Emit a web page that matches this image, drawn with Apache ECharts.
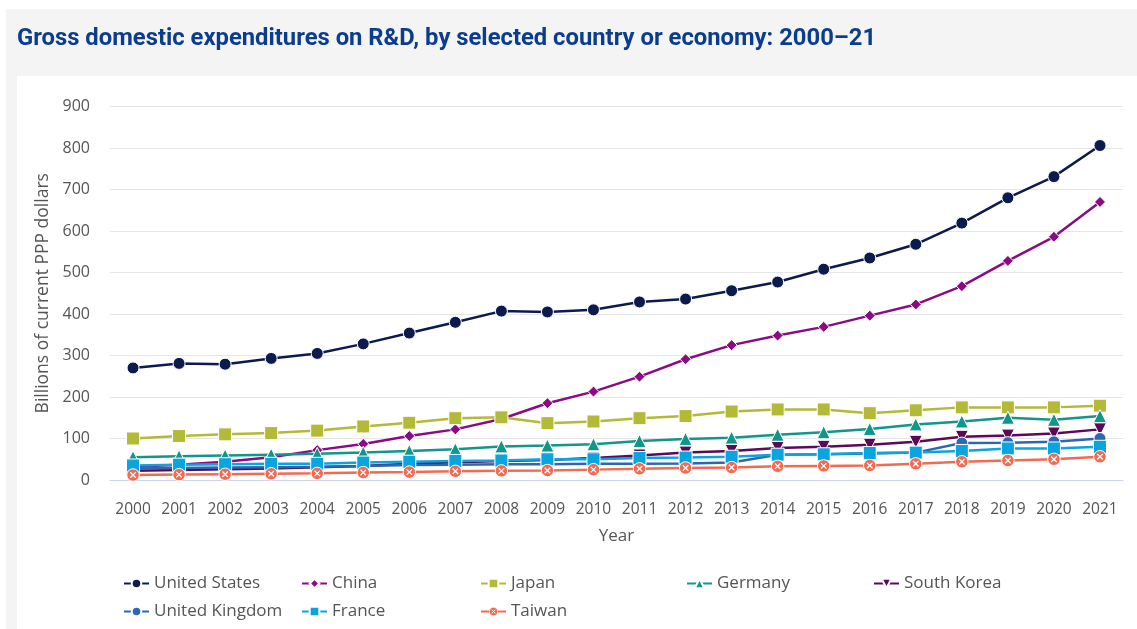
<!DOCTYPE html>
<html>
<head>
<meta charset="utf-8">
<script src="https://cdn.jsdelivr.net/npm/echarts@6/dist/echarts.min.js"></script>
<style>
	html, body { margin: 0; padding: 0; background: #fff; }
	#rd-chart { width: 1137px; height: 629px; }
</style>
</head>
<body>
<div id="rd-chart"></div>
<script>
var years = ['2000','2001','2002','2003','2004','2005','2006','2007','2008','2009','2010',
	'2011','2012','2013','2014','2015','2016','2017','2018','2019','2020','2021'];

// billions of current PPP dollars
var unitedStates = [270, 281, 279, 293, 305, 328, 354, 380, 407, 405, 410, 429, 436, 456, 477, 508, 535, 568, 619, 680, 731, 806];
var china        = [32, 37, 44, 55, 72, 87, 106, 122, 147, 185, 213, 249, 291, 325, 348, 369, 396, 423, 467, 528, 586, 670];
var japan        = [100, 106, 110, 113, 119, 129, 138, 149, 151, 137, 141, 149, 154, 165, 170, 170, 161, 168, 175, 175, 175, 179];
var germany      = [55, 57, 59, 61, 63, 66, 70, 74, 81, 83, 86, 94, 99, 102, 109, 115, 123, 134, 141, 150, 145, 154];
var southKorea   = [22, 24, 26, 28, 31, 34, 39, 43, 46, 48, 53, 59, 66, 70, 77, 80, 85, 92, 104, 107, 112, 122];
var unitedKingdom = [28, 29, 30, 31, 32, 34, 36, 37, 38, 38, 39, 39, 40, 42, 61, 62, 64, 66, 89, 90, 92, 100];
var france       = [35, 37, 38, 39, 39, 42, 44, 46, 47, 50, 50, 53, 54, 56, 61, 62, 65, 66, 70, 76, 76, 80];
var taiwan       = [12, 13, 14, 15, 16, 18, 19, 21, 22, 23, 25, 27, 29, 30, 33, 34, 35, 39, 44, 47, 50, 56];

var yTicks = [0, 100, 200, 300, 400, 500, 600, 700, 800, 900];

var taiwanIcon = 'image://data:image/svg+xml;charset=utf-8,' + encodeURIComponent(
	"<svg xmlns='http://www.w3.org/2000/svg' width='28' height='28'>" +
	"<circle cx='14' cy='14' r='12.5' fill='#f26a51' stroke='#ffffff' stroke-width='2'/>" +
	"<path d='M8.5,8.5L19.5,19.5M19.5,8.5L8.5,19.5' stroke='#ffffff' stroke-width='2.6'/></svg>");

function makeSeries(name, data, color, symbol, size, rotate) {
	return {
		name: name,
		type: 'line',
		data: data,
		symbol: symbol,
		symbolSize: size,
		symbolRotate: rotate || 0,
		showAllSymbol: true,
		color: color,
		lineStyle: { width: 2.5, color: color },
		itemStyle: { color: color, borderColor: '#fff', borderWidth: 1 }
	};
}

function legendAt(name, left, top) {
	return {
		data: [name],
		left: left,
		top: top,
		itemWidth: 25,
		itemHeight: 12,
		textStyle: { fontFamily: 'Open Sans', fontSize: 17, color: '#555' }
	};
}

var option = {
	animation: false,
	graphic: [
		{ type: 'rect', z: -10, shape: { x: 6, y: 9, width: 1131, height: 620 }, style: { fill: '#f4f4f4' } },
		{ type: 'rect', z: -9, shape: { x: 17, y: 76, width: 1120, height: 553 }, style: { fill: '#ffffff' } }
	],
	title: {
		text: 'Gross domestic expenditures on R&D, by selected country or economy: 2000\u201321',
		left: 12,
		top: 22,
		textStyle: { fontFamily: 'Roboto', fontWeight: 'bold', fontSize: 23.8, color: '#0b3d8f' }
	},
	legend: [
		legendAt('United States', 118, 570),
		legendAt('China', 296, 570),
		legendAt('Japan', 475, 570),
		legendAt('Germany', 681, 570),
		legendAt('South Korea', 868, 570),
		legendAt('United Kingdom', 118, 598),
		legendAt('France', 296, 598),
		legendAt('Taiwan', 475, 598)
	],
	grid: {
		left: 110,
		right: 14,
		top: 106.5,
		bottom: 149,
		containLabel: false,
		outerBoundsMode: 'none'
	},
	xAxis: {
		type: 'category',
		data: years,
		name: 'Year',
		nameLocation: 'middle',
		nameGap: 48,
		nameTextStyle: { fontFamily: 'Open Sans', fontSize: 17, color: '#555' },
		axisLine: { lineStyle: { color: '#ccd6eb', width: 1 } },
		axisTick: { alignWithLabel: true, interval: 0, length: 10, lineStyle: { color: '#ccd6eb' } },
		axisLabel: { interval: 0, margin: 22, fontFamily: 'Open Sans', fontSize: 15.5, color: '#555' },
		splitLine: { show: false }
	},
	yAxis: {
		type: 'value',
		min: yTicks[0],
		max: yTicks[yTicks.length - 1],
		interval: 100,
		name: 'Billions of current PPP dollars',
		nameLocation: 'middle',
		nameGap: 56,
		nameTextStyle: { fontFamily: 'Open Sans', fontSize: 17.5, color: '#555' },
		axisLine: { show: false },
		axisTick: { show: false },
		axisLabel: { margin: 20, fontFamily: 'Open Sans', fontSize: 16, color: '#555' },
		splitLine: { lineStyle: { color: '#e6e6e6', width: 1 } }
	},
	series: [
		makeSeries('United States', unitedStates, '#0c1b4d', 'circle', 12),
		makeSeries('China', china, '#8a0b82', 'diamond', 11),
		makeSeries('Japan', japan, '#b3ba37', 'rect', 13),
		makeSeries('Germany', germany, '#11968a', 'triangle', 13),
		makeSeries('South Korea', southKorea, '#5a0a57', 'triangle', 13, 180),
		makeSeries('United Kingdom', unitedKingdom, '#2b67b3', 'circle', 12),
		makeSeries('France', france, '#0aa4df', 'rect', 13),
		makeSeries('Taiwan', taiwan, '#f26a51', taiwanIcon, 14)
	]
};

var rdChart = echarts.init(document.getElementById('rd-chart'));
rdChart.setOption(option);
</script>
</body>
</html>
